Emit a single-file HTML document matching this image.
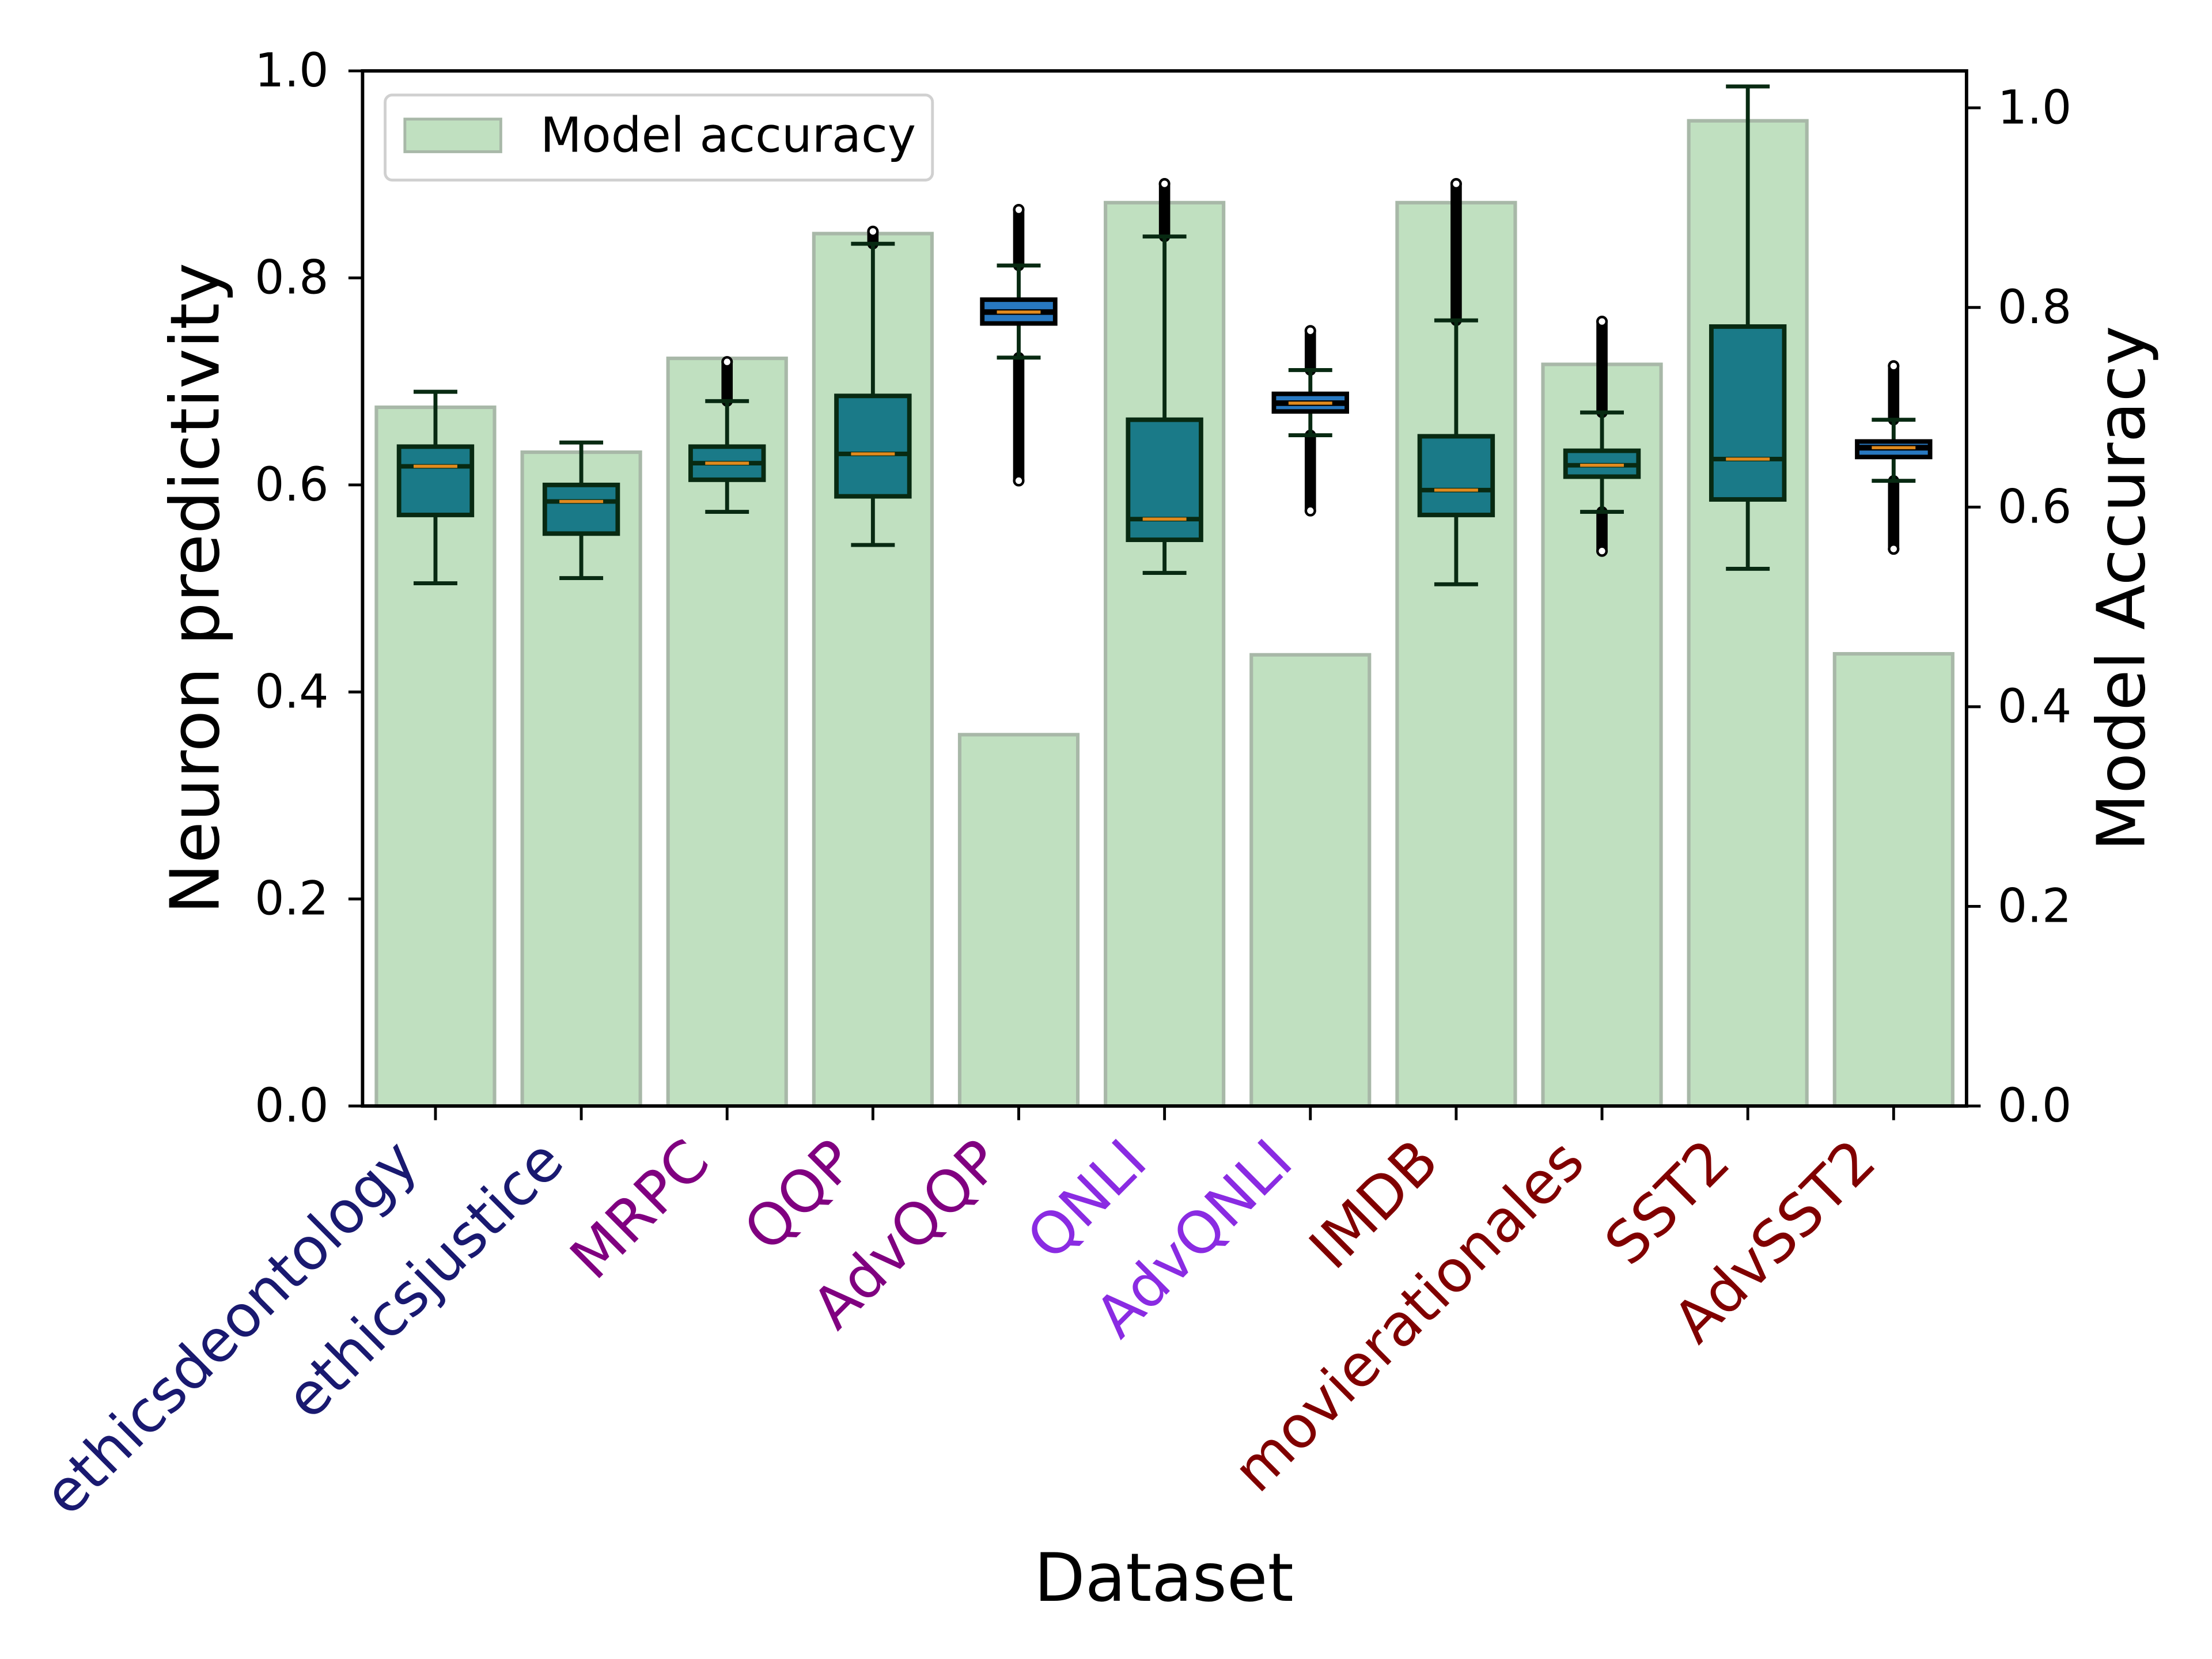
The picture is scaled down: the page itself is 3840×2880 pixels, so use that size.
<!DOCTYPE html>
<html><head><meta charset="utf-8"><style>
html,body{margin:0;padding:0;background:#fff}
svg{display:block}
text{font-family:"DejaVu Sans","Liberation Sans",sans-serif}
</style></head><body>
<svg id="chart" width="3840" height="2880" viewBox="0 0 1568 1170" preserveAspectRatio="none" xmlns="http://www.w3.org/2000/svg">
<g id="bars"></g>
<g id="boxes"></g>
<g id="axes"></g>
<g>
<rect x="273" y="67" width="388" height="60" rx="5" fill="#fff" fill-opacity="0.8" stroke="#d0d0d0" stroke-width="2"/>
<rect x="287" y="84" width="68" height="23" fill="#c0e0c0" stroke="#a8b8a8" stroke-width="2"/>
<text x="383" y="107" font-size="34" fill="#000">Model accuracy</text>
</g>
<text transform="translate(155,415) rotate(-90)" text-anchor="middle" font-size="48">Neuron predictivity</text>
<text transform="translate(1520,415) rotate(-90)" text-anchor="middle" font-size="47">Model Accuracy</text>
<text x="825" y="1129" text-anchor="middle" font-size="47">Dataset</text>
</svg>
<script>
const categories=["ethicsdeontology","ethicsjustice","MRPC","QQP","AdvQQP","QNLI","AdvQNLI","IMDB","movierationales","SST2","AdvSST2"];
const labelColors=["#191970","#191970","#800080","#800080","#800080","#8a2be2","#8a2be2","#800000","#800000","#800000","#800000"];
const accuracy=[0.700,0.655,0.749,0.874,0.372,0.905,0.452,0.905,0.743,0.987,0.453];
const whiskLow=[0.505,0.510,0.574,0.542,0.723,0.515,0.648,0.504,0.574,0.519,0.604];
const q1=[0.571,0.553,0.605,0.589,0.756,0.547,0.671,0.571,0.608,0.586,0.627];
const median=[0.618,0.584,0.621,0.630,0.767,0.567,0.679,0.595,0.619,0.625,0.636];
const q3=[0.637,0.600,0.637,0.686,0.779,0.663,0.688,0.647,0.633,0.753,0.642];
const whiskHigh=[0.690,0.641,0.681,0.833,0.812,0.840,0.711,0.759,0.670,0.985,0.663];
const flierHighMax=[null,null,0.723,0.849,0.870,0.895,0.753,0.895,0.762,null,0.719];
const flierLowMin=[null,null,null,null,0.600,null,0.571,null,0.532,null,0.534];
const boxStyle=["teal","teal","teal","teal","blue","teal","blue","teal","teal","teal","blue"];
const yTicks=[0,0.2,0.4,0.6,0.8,1.0];
const y2Ticks=[0,0.2,0.4,0.6,0.8,1.0];

const NS="http://www.w3.org/2000/svg";
const L=257,R=1394,T=50,B=780;
const xs=i=>L+(i+0.5)*(R-L)/categories.length;
const unit=(R-L)/categories.length;
const yL=v=>B-v*(B-T)/1.0;
const yR=v=>B-v*(B-T)/1.037;
function mk(tag,attrs,parent){const e=document.createElementNS(NS,tag);for(const k in attrs)e.setAttribute(k,attrs[k]);parent.appendChild(e);return e;}
const gb=document.getElementById('bars'),gx=document.getElementById('boxes'),ga=document.getElementById('axes');
categories.forEach((c,i)=>{
  const cx=xs(i),w=0.81*unit;
  const b=mk('rect',{x:cx-w/2,y:yR(accuracy[i]),width:w,height:B-yR(accuracy[i]),fill:'#c0e0c0',stroke:'#a8b8a8','stroke-width':2.5},gb);
  
  
  const g=mk('g',{},gx);
  
  
  const dk='#082a12',bw=0.5*unit,cw=0.3*unit;
  if(flierHighMax[i]!==null){mk('line',{x1:cx,x2:cx,y1:yL(whiskHigh[i]),y2:yL(flierHighMax[i])+3,stroke:'#000','stroke-width':8,'stroke-linecap':'round'},g);
    mk('circle',{cx:cx,cy:yL(flierHighMax[i])+3,r:3.2,fill:'#fff',stroke:'#000','stroke-width':1.8},g);}
  if(flierLowMin[i]!==null){mk('line',{x1:cx,x2:cx,y1:yL(whiskLow[i]),y2:yL(flierLowMin[i])-3,stroke:'#000','stroke-width':8,'stroke-linecap':'round'},g);
    mk('circle',{cx:cx,cy:yL(flierLowMin[i])-3,r:3.2,fill:'#fff',stroke:'#000','stroke-width':1.8},g);}
  mk('line',{x1:cx,x2:cx,y1:yL(whiskHigh[i]),y2:yL(q3[i]),stroke:dk,'stroke-width':2.8},g);
  mk('line',{x1:cx,x2:cx,y1:yL(q1[i]),y2:yL(whiskLow[i]),stroke:dk,'stroke-width':2.8},g);
  mk('line',{x1:cx-cw/2,x2:cx+cw/2,y1:yL(whiskHigh[i]),y2:yL(whiskHigh[i]),stroke:dk,'stroke-width':2.8},g);
  mk('line',{x1:cx-cw/2,x2:cx+cw/2,y1:yL(whiskLow[i]),y2:yL(whiskLow[i]),stroke:dk,'stroke-width':2.8},g);
  const fill=boxStyle[i]==='blue'?'#2878c0':'#1a7a88';
  const edge=boxStyle[i]==='blue'?'#000':dk;
  mk('rect',{x:cx-bw/2,y:yL(q3[i]),width:bw,height:yL(q1[i])-yL(q3[i]),fill:fill,stroke:edge,'stroke-width':3.2},g);
  mk('line',{x1:cx-bw/2,x2:cx+bw/2,y1:yL(median[i]),y2:yL(median[i]),stroke:edge,'stroke-width':boxStyle[i]==='blue'?4:3.2},g);
  mk('line',{x1:cx-0.3*bw,x2:cx+0.3*bw,y1:yL(median[i]),y2:yL(median[i]),stroke:'#e08a1e','stroke-width':2.2},g);
  mk('line',{x1:cx,x2:cx,y1:B,y2:B+10,stroke:'#000','stroke-width':2},ga);
  const t=mk('text',{transform:`translate(${cx-32},${800}) rotate(-45)`,'text-anchor':'end','dominant-baseline':'hanging','font-size':41,fill:labelColors[i]},ga);
  
  
  t.textContent=c;
});
yTicks.forEach(v=>{
  mk('line',{x1:L-10,x2:L,y1:yL(v),y2:yL(v),stroke:'#000','stroke-width':2},ga);
  const t=mk('text',{x:L-24,y:yL(v)+11,'text-anchor':'end','font-size':33},ga);
  
  
  t.textContent=v.toFixed(1);
});
y2Ticks.forEach(v=>{
  mk('line',{x1:R,x2:R+10,y1:yR(v),y2:yR(v),stroke:'#000','stroke-width':2},ga);
  const t=mk('text',{x:R+22,y:yR(v)+11,'font-size':33},ga);
  
  
  t.textContent=v.toFixed(1);
});
mk('rect',{x:L,y:T,width:R-L,height:B-T,fill:'none',stroke:'#000','stroke-width':2.4},ga);
</script>
</body></html>
